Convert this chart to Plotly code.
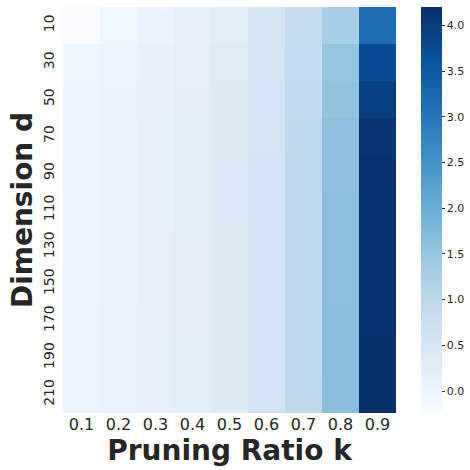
import plotly.graph_objects as go

pruning_ratio = ["0.1", "0.2", "0.3", "0.4", "0.5", "0.6", "0.7", "0.8", "0.9"]
dimension = ["10", "30", "50", "70", "90", "110", "130", "150", "170", "190", "210"]

values = [
    [-0.24, -0.06, 0.05, 0.15, 0.25, 0.48, 0.82, 1.30, 3.15],
    [-0.03, 0.03, 0.10, 0.18, 0.30, 0.52, 0.88, 1.50, 3.75],
    [-0.02, 0.04, 0.12, 0.20, 0.32, 0.55, 0.92, 1.55, 3.95],
    [0.00, 0.05, 0.13, 0.22, 0.33, 0.57, 0.95, 1.60, 4.10],
    [0.02, 0.05, 0.13, 0.22, 0.34, 0.58, 0.96, 1.62, 4.15],
    [0.00, 0.05, 0.13, 0.22, 0.34, 0.58, 0.96, 1.63, 4.16],
    [0.00, 0.05, 0.14, 0.23, 0.35, 0.59, 0.97, 1.64, 4.17],
    [0.01, 0.05, 0.14, 0.23, 0.35, 0.59, 0.97, 1.64, 4.18],
    [0.01, 0.06, 0.14, 0.23, 0.35, 0.60, 0.98, 1.65, 4.18],
    [0.01, 0.06, 0.14, 0.24, 0.36, 0.60, 0.98, 1.65, 4.19],
    [0.01, 0.06, 0.14, 0.24, 0.36, 0.60, 0.98, 1.66, 4.19],
]

blues = [
    [0.0, "#f7fbff"], [0.125, "#deebf7"], [0.25, "#c6dbef"], [0.375, "#9ecae1"],
    [0.5, "#6baed6"], [0.625, "#4292c6"], [0.75, "#2171b5"], [0.875, "#08519c"],
    [1.0, "#08306b"],
]

fig = go.Figure(go.Heatmap(
    z=values, x=pruning_ratio, y=dimension,
    colorscale=blues, zmin=-0.24, zmax=4.2,
    xgap=0, ygap=0,
    colorbar=dict(
        thickness=21, len=1, lenmode="fraction", y=0.5, yanchor="middle",
        x=1.075, xanchor="left", xpad=0, ypad=0,
        outlinewidth=0,
        tickvals=[0, 0.5, 1, 1.5, 2, 2.5, 3, 3.5, 4],
        ticktext=["0.0", "0.5", "1.0", "1.5", "2.0", "2.5", "3.0", "3.5", "4.0"],
        ticks="outside", ticklen=3, tickcolor="#333333",
        tickfont=dict(size=11, color="#262626", family="DejaVu Sans"),
    ),
))

fig.update_layout(
    width=470, height=470,
    margin=dict(l=63, r=74, t=7, b=57, autoexpand=False),
    paper_bgcolor="white", plot_bgcolor="white",
    font=dict(family="DejaVu Sans", color="#262626"),
    xaxis=dict(
        title=dict(text="<b>Pruning Ratio k</b>", font=dict(size=28, color="#262626"), standoff=5),
        tickfont=dict(size=16, color="#262626"), ticks="", showgrid=False, zeroline=False,
        automargin=False,
    ),
    yaxis=dict(
        title=dict(text="<b>Dimension d</b>", font=dict(size=28, color="#262626"), standoff=0),
        tickfont=dict(size=14, color="#262626"), tickangle=-90, ticks="",
        ticklabelstandoff=5,
        autorange="reversed", showgrid=False, zeroline=False, automargin=False,
    ),
)

fig.write_html("out.html", post_script="document.body.style.margin='0';",
               config={"displayModeBar": False})
